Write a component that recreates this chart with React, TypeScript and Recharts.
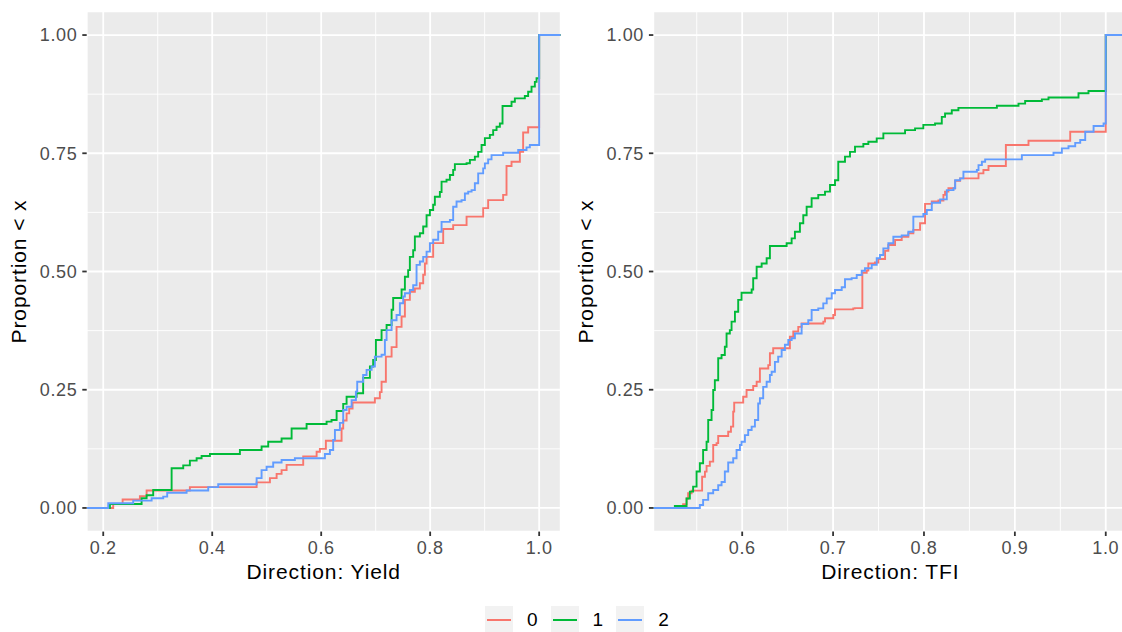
import React from 'react';
import { LineChart, Line, XAxis, YAxis, CartesianGrid } from 'recharts';

type Step = [number, number];

const groups = ['0', '1', '2'];
const groupColors = ['#F8766D', '#00BA38', '#619CFF'];

const yieldTicks = [0.2, 0.4, 0.6, 0.8, 1.0];
const yieldMinorTicks = [0.3, 0.5, 0.7, 0.9];
const tfiTicks = [0.6, 0.7, 0.8, 0.9, 1.0];
const tfiMinorTicks = [0.55, 0.65, 0.75, 0.85, 0.95];
const propTicks = [0, 0.25, 0.5, 0.75, 1];
const propMinorTicks = [0.125, 0.375, 0.625, 0.875];

// ECDF steps: [x where it jumps, new proportion]
const yield0: Step[] = [
  [0.2183, 0.008], [0.2356, 0.018], [0.2673, 0.025], [0.2796, 0.037], [0.359, 0.044],
  [0.4815, 0.054], [0.5059, 0.063], [0.5182, 0.072], [0.5273, 0.08], [0.5365, 0.091],
  [0.567, 0.109], [0.5916, 0.119], [0.5976, 0.125], [0.6086, 0.142], [0.6374, 0.168],
  [0.6404, 0.185], [0.6466, 0.2], [0.6514, 0.21], [0.6576, 0.223], [0.6985, 0.232],
  [0.7077, 0.245], [0.7108, 0.267], [0.7187, 0.32], [0.7292, 0.34], [0.7383, 0.383],
  [0.7475, 0.405], [0.7536, 0.44], [0.7627, 0.457], [0.7719, 0.464], [0.7811, 0.475],
  [0.7872, 0.493], [0.7903, 0.517], [0.7934, 0.531], [0.8055, 0.56], [0.8239, 0.59],
  [0.8422, 0.598], [0.8668, 0.616], [0.8973, 0.634], [0.9064, 0.651], [0.9339, 0.662],
  [0.9401, 0.723], [0.9493, 0.732], [0.9646, 0.753], [0.9706, 0.794], [0.9798, 0.805],
  [1.0, 1.0],
];

const yield1: Step[] = [
  [0.2123, 0.0085], [0.2704, 0.0205], [0.2796, 0.027], [0.2917, 0.038], [0.3255, 0.084],
  [0.3468, 0.09], [0.359, 0.1], [0.3714, 0.105], [0.3805, 0.11], [0.3958, 0.114],
  [0.4508, 0.1225], [0.4906, 0.13], [0.5028, 0.14], [0.5273, 0.147], [0.5457, 0.168],
  [0.5732, 0.1775], [0.6099, 0.1825], [0.619, 0.186], [0.6283, 0.205], [0.6404, 0.22],
  [0.6466, 0.235], [0.665, 0.2425], [0.677, 0.275], [0.6894, 0.299], [0.6954, 0.313],
  [0.7004, 0.355], [0.7108, 0.376], [0.72, 0.387], [0.7292, 0.419], [0.7321, 0.444],
  [0.7475, 0.462], [0.7536, 0.489], [0.7596, 0.503], [0.7627, 0.531], [0.7688, 0.545],
  [0.7719, 0.574], [0.7811, 0.581], [0.7872, 0.595], [0.7934, 0.619], [0.7995, 0.63],
  [0.8055, 0.641], [0.8086, 0.658], [0.8178, 0.668], [0.8209, 0.69], [0.83, 0.694],
  [0.8362, 0.704], [0.8422, 0.715], [0.8453, 0.727], [0.8668, 0.729], [0.8729, 0.736],
  [0.882, 0.743], [0.8881, 0.753], [0.8943, 0.7675], [0.9004, 0.782], [0.9095, 0.789],
  [0.9156, 0.799], [0.9218, 0.806], [0.9279, 0.813], [0.9328, 0.85], [0.9493, 0.859],
  [0.9554, 0.866], [0.9737, 0.871], [0.9798, 0.88], [0.986, 0.891], [0.9921, 0.901],
  [0.9952, 0.9085], [1.0, 1.0],
];

const yield2: Step[] = [
  [0.2092, 0.01], [0.255, 0.0155], [0.2888, 0.0205], [0.3101, 0.024], [0.3174, 0.032],
  [0.353, 0.037], [0.3927, 0.044], [0.411, 0.05], [0.4815, 0.063], [0.4906, 0.08],
  [0.4998, 0.087], [0.5119, 0.096], [0.5273, 0.1015], [0.5517, 0.105], [0.6068, 0.114],
  [0.616, 0.1225], [0.622, 0.144], [0.6252, 0.165], [0.6343, 0.18], [0.6404, 0.207],
  [0.6466, 0.214], [0.6558, 0.228], [0.6637, 0.246], [0.6661, 0.267], [0.677, 0.281],
  [0.6833, 0.292], [0.6925, 0.299], [0.6985, 0.32], [0.7108, 0.324], [0.7169, 0.355],
  [0.72, 0.376], [0.7292, 0.397], [0.7383, 0.408], [0.7444, 0.433], [0.7505, 0.447],
  [0.7536, 0.454], [0.7627, 0.461], [0.7688, 0.471], [0.775, 0.514], [0.7811, 0.521],
  [0.7872, 0.531], [0.7934, 0.542], [0.7995, 0.56], [0.8055, 0.567], [0.8147, 0.584],
  [0.8209, 0.605], [0.8362, 0.609], [0.8422, 0.637], [0.8484, 0.648], [0.8576, 0.651],
  [0.8637, 0.665], [0.8698, 0.669], [0.876, 0.672], [0.882, 0.6865], [0.8881, 0.7075],
  [0.8973, 0.718], [0.9004, 0.7287], [0.9064, 0.737], [0.9126, 0.746], [0.9339, 0.751],
  [0.9615, 0.757], [0.9768, 0.7625], [0.9829, 0.7675], [1.0, 1.0],
];

const tfi0: Step[] = [
  [0.535, 0.008], [0.5388, 0.02], [0.5405, 0.031], [0.5443, 0.0366], [0.5559, 0.066],
  [0.559, 0.0768], [0.5608, 0.089], [0.5644, 0.098], [0.5681, 0.133], [0.5718, 0.137],
  [0.5736, 0.152], [0.5846, 0.161], [0.5876, 0.172], [0.5901, 0.2036], [0.5912, 0.2227],
  [0.6011, 0.235], [0.6048, 0.2495], [0.6121, 0.258], [0.6159, 0.267], [0.6195, 0.295],
  [0.6287, 0.302], [0.6305, 0.327], [0.6341, 0.3376], [0.6525, 0.362], [0.6562, 0.373],
  [0.6617, 0.383], [0.6654, 0.39], [0.6893, 0.394], [0.6911, 0.401], [0.7002, 0.408],
  [0.7021, 0.42], [0.7222, 0.422], [0.7241, 0.4226], [0.7322, 0.4975], [0.737, 0.502],
  [0.7388, 0.517], [0.7461, 0.519], [0.7498, 0.5265], [0.7572, 0.544], [0.7608, 0.556],
  [0.7682, 0.5666], [0.7755, 0.5736], [0.7828, 0.581], [0.7883, 0.588], [0.7957, 0.602],
  [0.8012, 0.643], [0.8086, 0.648], [0.8159, 0.65], [0.8214, 0.662], [0.8232, 0.669],
  [0.8269, 0.676], [0.8343, 0.692], [0.8398, 0.697], [0.86, 0.7075], [0.8654, 0.7146],
  [0.871, 0.723], [0.8901, 0.7675], [0.915, 0.7766], [0.9609, 0.7956], [1.0, 1.0],
];

const tfi1: Step[] = [
  [0.5259, 0.004], [0.5388, 0.02], [0.5424, 0.0345], [0.546, 0.045], [0.5498, 0.077],
  [0.5534, 0.0945], [0.557, 0.1226], [0.5608, 0.14], [0.5626, 0.186], [0.5663, 0.207],
  [0.5681, 0.2495], [0.5699, 0.27], [0.5736, 0.3165], [0.5773, 0.3235], [0.5809, 0.341],
  [0.5828, 0.369], [0.5864, 0.376], [0.5883, 0.394], [0.592, 0.415], [0.5956, 0.44],
  [0.5993, 0.455], [0.6104, 0.462], [0.6121, 0.4856], [0.6159, 0.51], [0.6214, 0.517],
  [0.6269, 0.528], [0.6305, 0.554], [0.6489, 0.5596], [0.6544, 0.57], [0.658, 0.584],
  [0.6635, 0.602], [0.6672, 0.619], [0.6709, 0.637], [0.6764, 0.655], [0.6837, 0.662],
  [0.6911, 0.669], [0.6966, 0.683], [0.7021, 0.693], [0.7057, 0.732], [0.7131, 0.743],
  [0.7186, 0.753], [0.7241, 0.764], [0.7333, 0.7696], [0.7388, 0.7745], [0.748, 0.7815],
  [0.7553, 0.792], [0.7792, 0.799], [0.7902, 0.8027], [0.7993, 0.81], [0.8122, 0.813],
  [0.8196, 0.827], [0.8232, 0.834], [0.8306, 0.841], [0.8379, 0.846], [0.8802, 0.8505],
  [0.904, 0.855], [0.9113, 0.8605], [0.9297, 0.864], [0.937, 0.868], [0.97, 0.877],
  [0.981, 0.8816], [1.0, 1.0],
];

const tfi2: Step[] = [
  [0.5534, 0.0063], [0.557, 0.017], [0.5626, 0.031], [0.5681, 0.038], [0.5736, 0.048],
  [0.5773, 0.055], [0.5809, 0.077], [0.5846, 0.096], [0.5901, 0.105], [0.5938, 0.1226],
  [0.5975, 0.133], [0.5993, 0.14], [0.603, 0.154], [0.6066, 0.165], [0.6104, 0.172],
  [0.614, 0.186], [0.6176, 0.221], [0.6195, 0.232], [0.6231, 0.256], [0.6269, 0.267],
  [0.6305, 0.281], [0.6324, 0.288], [0.636, 0.309], [0.6396, 0.32], [0.6434, 0.334],
  [0.647, 0.345], [0.6507, 0.355], [0.6544, 0.359], [0.658, 0.369], [0.6654, 0.389],
  [0.6727, 0.397], [0.6764, 0.4186], [0.6837, 0.422], [0.6892, 0.4327], [0.693, 0.443],
  [0.6985, 0.454], [0.7021, 0.461], [0.7095, 0.4666], [0.7131, 0.4835], [0.7204, 0.486],
  [0.726, 0.4926], [0.7315, 0.5017], [0.7351, 0.507], [0.7425, 0.514], [0.748, 0.528],
  [0.7516, 0.535], [0.7553, 0.549], [0.7608, 0.5596], [0.7663, 0.5736], [0.7755, 0.5764],
  [0.7828, 0.584], [0.7883, 0.616], [0.7993, 0.6216], [0.8031, 0.63], [0.8086, 0.6455],
  [0.8178, 0.6526], [0.8251, 0.672], [0.8325, 0.676], [0.8343, 0.693], [0.8398, 0.697],
  [0.8434, 0.711], [0.8582, 0.7146], [0.86, 0.725], [0.8637, 0.732], [0.8673, 0.737],
  [0.9077, 0.746], [0.9425, 0.751], [0.9517, 0.7604], [0.959, 0.765], [0.9664, 0.772],
  [0.9719, 0.778], [0.9774, 0.7956], [0.9866, 0.8076], [0.9976, 0.813], [1.0, 1.0],
];

const FONT = '"Liberation Sans", Arial, Helvetica, sans-serif';
const PROP_DOMAIN: [number, number] = [-0.05, 1.05];

// ggplot-style 5% expansion of the x range
function expandRange(series: Step[][]): [number, number] {
  const xs = series.flat().map((p) => p[0]);
  const lo = Math.min(...xs);
  const hi = Math.max(...xs);
  const pad = (hi - lo) * 0.05;
  return [lo - pad, hi + pad];
}

function toPoints(steps: Step[], domain: [number, number]) {
  return [
    { x: domain[0], y: 0 },
    ...steps.map(([x, y]) => ({ x, y })),
    { x: domain[1], y: 1 },
  ];
}

type PanelProps = {
  title: string;
  series: Step[][];
  ticks: number[];
  minorTicks: number[];
  width: number;
  axisWidth: number;
  marginRight: number;
  yTitleOffset: number;
};

function Panel({ title, series, ticks, minorTicks, width, axisWidth, marginRight, yTitleOffset }: PanelProps) {
  const domain = expandRange(series);
  const tickStyle = { fontSize: 18, fill: '#4D4D4D', fontFamily: FONT, letterSpacing: 0.6 };
  const titleStyle = { fontSize: 21, fill: '#000000', fontFamily: FONT, letterSpacing: 0.9 };
  return (
    <LineChart width={width} height={600} margin={{ top: 11.4, right: marginRight, bottom: 0, left: 0 }}>
      <CartesianGrid xAxisId="minor" yAxisId="minor" fill="#EBEBEB" stroke="#FFFFFF" strokeWidth={0.9} />
      <CartesianGrid stroke="#FFFFFF" strokeWidth={1.8} />
      <XAxis xAxisId="minor" type="number" dataKey="x" domain={domain} ticks={minorTicks} allowDataOverflow hide />
      <YAxis yAxisId="minor" type="number" domain={PROP_DOMAIN} ticks={propMinorTicks} allowDataOverflow hide />
      <XAxis
        type="number"
        dataKey="x"
        domain={domain}
        ticks={ticks}
        allowDataOverflow
        height={68.4}
        axisLine={false}
        tickLine={{ stroke: '#333333', strokeWidth: 1.8 }}
        tickSize={4.4}
        tickMargin={5.2}
        tick={tickStyle}
        tickFormatter={(v: number) => v.toFixed(1)}
        label={{ value: title, position: 'insideBottom', offset: 20.7, style: titleStyle }}
      />
      <YAxis
        type="number"
        domain={PROP_DOMAIN}
        ticks={propTicks}
        allowDataOverflow
        width={axisWidth}
        axisLine={false}
        tickLine={{ stroke: '#333333', strokeWidth: 1.8 }}
        tickSize={4.4}
        tickMargin={5}
        tick={tickStyle}
        tickFormatter={(v: number) => v.toFixed(2)}
        label={{
          value: 'Proportion < x',
          angle: -90,
          position: 'insideLeft',
          offset: yTitleOffset,
          style: { ...titleStyle, textAnchor: 'middle' },
        }}
      />
      {series.map((s, i) => (
        <Line
          key={groups[i]}
          data={toPoints(s, domain)}
          dataKey="y"
          type="stepAfter"
          stroke={groupColors[i]}
          strokeWidth={1.9}
          dot={false}
          activeDot={false}
          isAnimationActive={false}
        />
      ))}
    </LineChart>
  );
}

export default function App() {
  return (
    <div
      style={{
        position: 'absolute',
        left: 0,
        top: 0,
        width: 1122,
        height: 632,
        overflow: 'hidden',
        background: '#FFFFFF',
        fontFamily: FONT,
      }}
    >
      <div style={{ position: 'absolute', left: 0, top: 0 }}>
        <Panel
          title="Direction: Yield"
          series={[yield0, yield1, yield2]}
          ticks={yieldTicks}
          minorTicks={yieldMinorTicks}
          width={570}
          axisWidth={86.7}
          marginRight={9.3}
          yTitleOffset={18.8}
        />
      </div>
      <div style={{ position: 'absolute', left: 570, top: 0 }}>
        <Panel
          title="Direction: TFI"
          series={[tfi0, tfi1, tfi2]}
          ticks={tfiTicks}
          minorTicks={tfiMinorTicks}
          width={558}
          axisWidth={83.3}
          marginRight={0.7}
          yTitleOffset={15.4}
        />
      </div>
      <div style={{ position: 'absolute', left: 485, top: 606, display: 'flex', alignItems: 'center' }}>
        {groups.map((g, i) => (
          <div key={g} style={{ display: 'flex', alignItems: 'center', marginRight: 13 }}>
            <div
              style={{
                width: 28,
                height: 28,
                background: '#F2F2F2',
                display: 'flex',
                alignItems: 'center',
                justifyContent: 'center',
              }}
            >
              <div style={{ width: 24, height: 2, background: groupColors[i] }} />
            </div>
            <span style={{ marginLeft: 14, fontSize: 19, color: '#000000', lineHeight: '28px' }}>{g}</span>
          </div>
        ))}
      </div>
    </div>
  );
}
